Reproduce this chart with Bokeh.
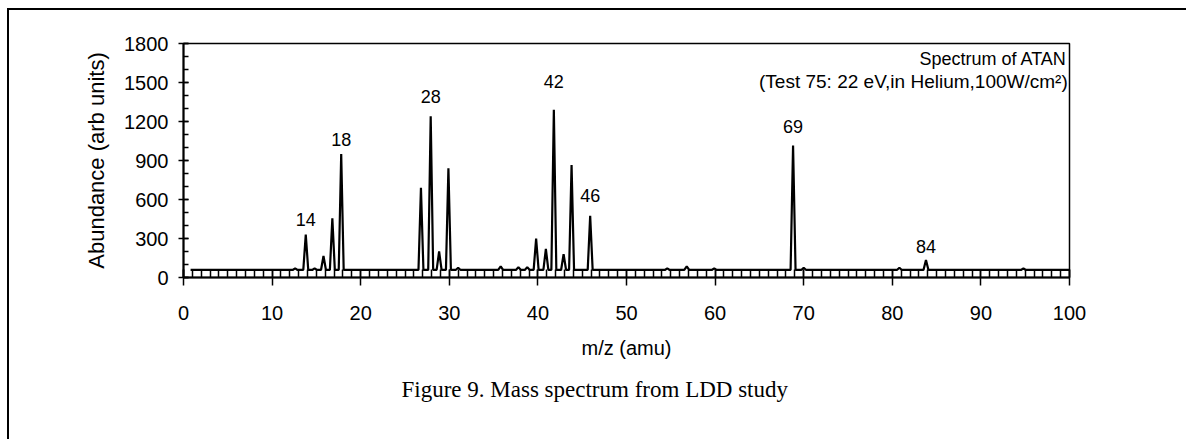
from bokeh.plotting import figure
from bokeh.models import Range1d, SingleIntervalTicker, Label, ColumnDataSource, Title
from bokeh.core.properties import value
from bokeh.embed import file_html
from bokeh.resources import INLINE

# ---- data ----
baseline = 58
mz_start, mz_end = 0.8, 100.0
peak_mz = [12.6, 13.8, 14.8, 15.8, 16.8, 17.8, 26.8, 27.9, 28.85, 29.9, 31.0,
           35.8, 37.8, 38.8, 39.8, 40.9, 41.8, 42.9, 43.8, 45.9, 54.6, 56.8,
           59.9, 68.8, 70.0, 80.8, 83.8, 94.8]
peak_abund = [70, 330, 70, 165, 455, 950, 690, 1240, 200, 840, 75,
              85, 80, 80, 300, 220, 1290, 180, 865, 475, 70, 85,
              70, 1015, 75, 75, 135, 70]
label_mz = [13.8, 17.8, 27.9, 41.8, 45.9, 68.8, 83.8]
label_y = [400, 1015, 1340, 1455, 577, 1115, 185]
label_text = ["14", "18", "28", "42", "46", "69", "84"]

x_ticks_interval = 10
y_ticks_interval = 300

# ---- build the trace (baseline with narrow peaks) ----
hw = 0.28
xs = [mz_start]
ys = [baseline]
for m, a in zip(peak_mz, peak_abund):
    xs += [m - hw, m, m + hw]
    ys += [baseline, a, baseline]
xs.append(mz_end)
ys.append(baseline)

p = figure(width=1179, height=431, x_range=Range1d(0, 100), y_range=Range1d(0, 1800),
           output_backend="svg", toolbar_location=None,
           min_border_left=174, min_border_right=119, min_border_top=33, min_border_bottom=164)
p.margin = (8, 0, 0, 7)
p.styles = {"border-left": "2px solid #000", "border-top": "2px solid #000"}
p.background_fill_color = "white"
p.border_fill_color = "white"
p.outline_line_color = "black"
p.outline_line_width = 1.5
p.xgrid.visible = False
p.ygrid.visible = False

p.line(xs, ys, line_color="black", line_width=2.2)

src = ColumnDataSource(dict(x=label_mz, y=label_y, t=label_text))
p.text(x="x", y="y", text="t", source=src, text_align="center", text_baseline="bottom",
       text_font=value("Liberation Sans"), text_font_size="18px", text_color="black")

font = "Liberation Sans"
p.xaxis.ticker = SingleIntervalTicker(interval=x_ticks_interval, num_minor_ticks=10)
p.yaxis.ticker = SingleIntervalTicker(interval=y_ticks_interval, num_minor_ticks=3)
for ax in (p.xaxis[0], p.yaxis[0]):
    ax.axis_line_width = 2
    ax.axis_line_color = "black"
    ax.major_tick_line_color = "black"
    ax.minor_tick_line_color = "black"
    ax.major_tick_line_width = 1.5
    ax.minor_tick_line_width = 1.5
    ax.major_label_text_font = font
    ax.major_label_text_font_size = "20px"
    ax.major_label_text_color = "black"
    ax.axis_label_text_font = font
    ax.axis_label_text_font_size = "20px"
    ax.axis_label_text_font_style = "normal"
    ax.axis_label_text_color = "black"

p.xaxis.major_tick_in = 8
p.xaxis.major_tick_out = 8
p.xaxis.minor_tick_in = 8
p.xaxis.minor_tick_out = 0
p.xaxis.major_label_standoff = 20
p.xaxis.axis_label = "m/z (amu)"
p.xaxis.axis_label_standoff = 14

p.yaxis.major_tick_in = 5
p.yaxis.major_tick_out = 5
p.yaxis.minor_tick_in = 5
p.yaxis.minor_tick_out = 0
p.yaxis.major_label_standoff = 10
p.yaxis.axis_label = "Abundance (arb units)"
p.yaxis.axis_label_standoff = 12
p.yaxis.axis_label_text_font_size = "22px"

p.add_layout(Label(x=99.7, y=1760, x_units="data", y_units="data", text="Spectrum of ATAN",
                   text_align="right", text_baseline="top", text_font=font,
                   text_font_size="18px", text_color="black"))
p.add_layout(Label(x=99.8, y=1590, x_units="data", y_units="data",
                   text="(Test 75: 22 eV,in Helium,100W/cm²)",
                   text_align="right", text_baseline="top", text_font=font,
                   text_font_size="19px", text_color="black"))

caption = Title(text="Figure 9. Mass spectrum from LDD study", align="left",
                text_font="Liberation Serif", text_font_size="23px",
                text_font_style="normal", text_color="black", standoff=26, offset=218)
p.add_layout(caption, "below")

open("out.html", "w").write(file_html(p, INLINE))
